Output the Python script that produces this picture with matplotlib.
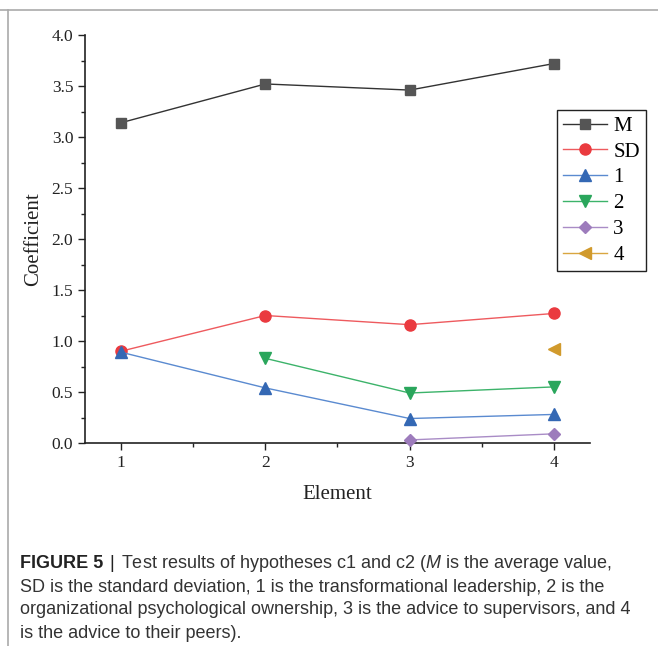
import numpy as np
import matplotlib
matplotlib.use("Agg")
import matplotlib.pyplot as plt
from matplotlib.lines import Line2D
from matplotlib.ticker import MultipleLocator, FormatStrFormatter

plt.rcParams.update({
    "font.family": "serif",
    "font.serif": ["Liberation Serif", "DejaVu Serif"],
    "mathtext.fontset": "custom",
    "mathtext.it": "Liberation Sans:italic",
})

# ---- data ----
elements = [1, 2, 3, 4]
M = [3.14, 3.52, 3.46, 3.72]
SD = [0.90, 1.25, 1.16, 1.27]
s1 = [0.89, 0.54, 0.24, 0.28]
s2 = [np.nan, 0.83, 0.49, 0.55]
s3 = [np.nan, np.nan, 0.03, 0.09]
s4 = [np.nan, np.nan, np.nan, 0.92]
labels = ["M", "SD", "1", "2", "3", "4"]

SANS = ["Liberation Sans", "DejaVu Sans"]

styles = [
    (M,  "s", "#555555", "#333333", 7),
    (SD, "o", "#ea3a3f", "#ee5a5e", 8),
    (s1, "^", "#3468b4", "#5a8ad0", 8.5),
    (s2, "v", "#2aa65c", "#3cb36a", 8.5),
    (s3, "D", "#9d7cbc", "#a98cc6", 6.5),
    (s4, "<", "#d19a2c", "#d9a640", 8.5),
]

fig = plt.figure(figsize=(6.58, 6.46), dpi=100)
ax = fig.add_axes([85/658, 1-443/646, (590-85)/658, (443-35)/646])

for (vals, mk, mc, lc, ms) in styles:
    ax.plot(elements, vals, color=lc, lw=1.0, marker=mk, ms=ms,
            mfc=mc, mec=mc, zorder=3, clip_on=False)

ax.set_xlim(0.75, 4.25)
ax.set_ylim(0, 4.0)
ax.xaxis.set_major_locator(MultipleLocator(1))
ax.xaxis.set_minor_locator(MultipleLocator(0.5))
ax.yaxis.set_major_locator(MultipleLocator(0.5))
ax.yaxis.set_minor_locator(MultipleLocator(0.25))
ax.yaxis.set_major_formatter(FormatStrFormatter("%.1f"))
for s in ["top", "right"]:
    ax.spines[s].set_visible(False)
for s in ["left", "bottom"]:
    ax.spines[s].set_color("#222222")
    ax.spines[s].set_linewidth(1.2)
ax.tick_params(which="major", direction="out", length=5, width=1, color="#222222",
               labelsize=12.5, labelcolor="#222222")
ax.tick_params(which="minor", direction="out", length=3, width=1, color="#222222")
ax.set_xlabel("Element", fontsize=15, labelpad=10, color="#222222")
ax.set_ylabel("Coefficient", fontsize=15, labelpad=6, color="#222222")

handles = [Line2D([], [], color=lc, lw=1.0, marker=mk, ms=ms, mfc=mc, mec=mc)
           for (vals, mk, mc, lc, ms) in styles]
leg = fig.legend(handles, labels, loc="upper left",
                 bbox_to_anchor=(557/658, 1-110/646), prop={"size": 15},
                 frameon=True, fancybox=False, edgecolor="#222222", framealpha=1,
                 handlelength=2.1, handletextpad=0.3, labelspacing=0.3,
                 borderpad=0.3, borderaxespad=0)
leg.get_frame().set_linewidth(1.0)

# frame lines of the page
fig.add_artist(Line2D([0, 1], [1-10/646, 1-10/646], color="#aaaaaa", lw=1.2,
                      transform=fig.transFigure))
fig.add_artist(Line2D([8/658, 8/658], [0, 1-10/646], color="#aaaaaa", lw=1.2,
                      transform=fig.transFigure))

# caption
cap_lines = [
    "Test results of hypotheses c1 and c2 ($\\it{M}$ is the average value,",
    "SD is the standard deviation, 1 is the transformational leadership, 2 is the",
    "organizational psychological ownership, 3 is the advice to supervisors, and 4",
    "is the advice to their peers).",
]
CAP = 13
y0 = 1 - 564/646
t1 = fig.text(20/658, y0, "FIGURE 5", family=SANS, fontsize=CAP, fontweight="bold",
              va="center", color="#222222")
fig.canvas.draw()
x_end = t1.get_window_extent().x1 / fig.bbox.width
t2 = fig.text(x_end + 6/658, y0, "|", family=SANS, fontsize=CAP, va="center",
              color="#222222")
fig.canvas.draw()
x_end = t2.get_window_extent().x1 / fig.bbox.width
fig.text(x_end + 7/658, y0, cap_lines[0], family=SANS, fontsize=CAP, va="center",
         color="#333333")
for i, line in enumerate(cap_lines[1:], start=1):
    fig.text(20/658, 1 - (564 + 23*i)/646, line, family=SANS, fontsize=CAP,
             va="center", color="#333333")

fig.savefig("out.png", dpi=100)
